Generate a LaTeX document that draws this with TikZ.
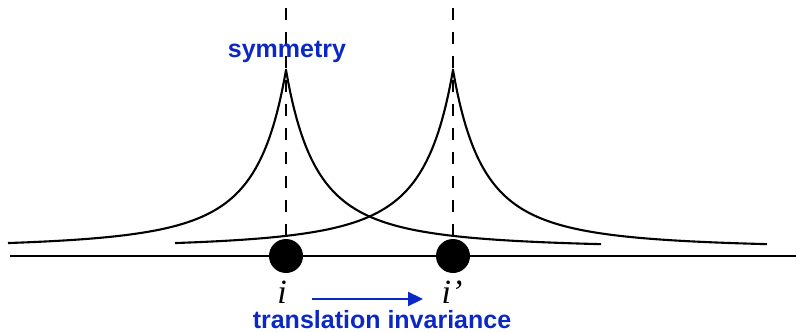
\documentclass[tikz,border=0pt]{standalone}
\usepackage{fontspec}
\setmainfont{Liberation Serif}
\setsansfont{Liberation Sans}
\usetikzlibrary{arrows.meta}
\definecolor{labelblue}{RGB}{12,40,196}

\begin{document}
\begin{tikzpicture}[
        x=1pt, y=-1pt,
        declare function={bump(\t)=249-179/(1+abs(\t)/62)^2;},
        site/.style={circle, fill=black, inner sep=0pt, minimum size=34pt},
        axis/.style={line width=2.1pt},
        guide/.style={line width=2pt, dash pattern=on 12pt off 12pt},
        curve/.style={line width=2.1pt, line join=miter},
        tag/.style={font=\sffamily\bfseries\fontsize{25}{29}\selectfont, text=labelblue, anchor=base, inner sep=1pt},
        sitelabel/.style={font=\itshape\fontsize{34}{40}\selectfont, anchor=base, inner sep=0pt, text depth=0pt},
        move/.style={-{Triangle[length=15pt, width=14pt]}, line width=2.2pt, draw=labelblue}
    ]
    \useasboundingbox (0,0) rectangle (796,332);

    % Define the chain
    \coordinate (axisL) at (10,256);
    \coordinate (axisR) at (796,256);
    \draw[axis] (axisL) -- (axisR);

    % Define the two sites
    \node[site] (site1) at (286,256) {};
    \node[site] (site2) at (453,256) {};

    % Symmetry axes
    \coordinate (top1) at (286,8);
    \coordinate (top2) at (453,8);
    \draw[guide] (top1) -- (site1);
    \draw[guide] (top2) -- (site2);

    % Cusp profiles
    \draw[curve] plot[domain=-278:0, samples=150] ({286+\x}, {bump(\x)})
        -- plot[domain=0:315, samples=150] ({286+\x}, {bump(\x)});
    \draw[curve] plot[domain=-278:0, samples=150] ({453+\x}, {bump(\x)})
        -- plot[domain=0:314, samples=150] ({453+\x}, {bump(\x)});

    % Labels
    \node[tag] (symm) at (287,57) {symmetry};
    \node[sitelabel] (ilab) at (282,303) {i};
    \node[sitelabel] (iplab) at (452,303) {i’};
    \node[tag] (trans) at (382,328) {translation invariance};

    % Translation arrow
    \coordinate (moveL) at (312,299);
    \coordinate (moveR) at (423,299);
    \draw[move] (moveL) -- (moveR);

\end{tikzpicture}
\end{document}
